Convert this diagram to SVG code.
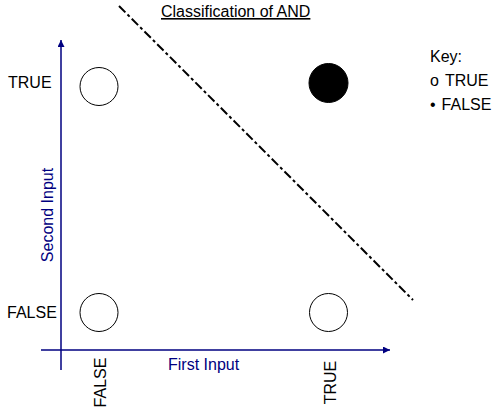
<svg xmlns="http://www.w3.org/2000/svg" width="503" height="411" viewBox="0 0 503 411">
<style>
text{font-family:"Liberation Sans",Arial,sans-serif;font-size:16px;fill:#000}
.blue{fill:#000080}
.ax{stroke:#000080;stroke-width:1.5;fill:none}
.pt{stroke:#000;stroke-width:1;fill:#fff}
.pt.f{fill:#000}
</style>
<defs>
<marker id="ah" viewBox="0 0 10 10" refX="10" refY="5" markerWidth="8" markerHeight="7" markerUnits="userSpaceOnUse" orient="auto">
<path d="M0,0 L10,5 L0,10 Z" fill="#000080"/>
</marker>
</defs>
<rect width="503" height="411" fill="#fff"/>
<g id="connectors">
<line class="ax" x1="61" y1="370" x2="61" y2="40" marker-end="url(#ah)"/>
<line class="ax" x1="41" y1="350" x2="390" y2="350" marker-end="url(#ah)"/>
<line x1="119" y1="6" x2="413" y2="300" stroke="#000" stroke-width="2" stroke-dasharray="9 3 3 3"/>
</g>
<g id="title"><text x="161" y="17" text-decoration="underline">Classification of AND</text></g>
<g id="p00"><circle class="pt" cx="99" cy="312.5" r="19"/></g>
<g id="p01"><circle class="pt" cx="99" cy="86.5" r="19"/></g>
<g id="p10"><circle class="pt" cx="328.5" cy="312.5" r="19"/></g>
<g id="p11"><circle class="pt f" cx="328.5" cy="83" r="19.5"/></g>
<g id="labels">
<text x="8" y="88">TRUE</text>
<text x="7" y="318">FALSE</text>
<text class="blue" x="168" y="370">First Input</text>
<text class="blue" transform="translate(53,215) rotate(-90)" text-anchor="middle">Second Input</text>
<text transform="translate(106,382.5) rotate(-90)" text-anchor="middle">FALSE</text>
<text transform="translate(336,382.5) rotate(-90)" text-anchor="middle">TRUE</text>
</g>
<g id="key">
<text x="430" y="62">Key:</text>
<text x="430" y="86">o<tspan dx="6">TRUE</tspan></text>
<text x="430" y="110">•<tspan dx="6">FALSE</tspan></text>
</g>
</svg>
